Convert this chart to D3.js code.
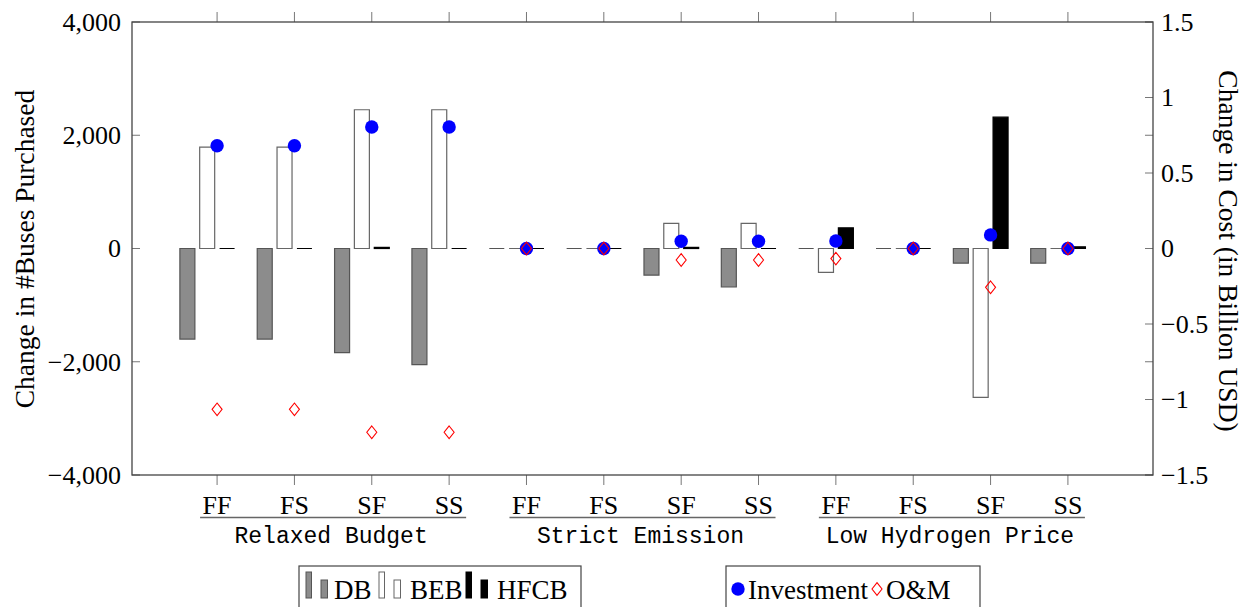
<!DOCTYPE html>
<html>
<head>
<meta charset="utf-8">
<script src="https://cdn.jsdelivr.net/npm/d3@7"></script>
<style>
  html, body { margin: 0; padding: 0; background: #fff; }
  svg { display: block; }
  .serif { font-family: "Liberation Serif", "Times New Roman", serif; }
  .mono { font-family: "Liberation Mono", "DejaVu Sans Mono", monospace; }
</style>
</head>
<body>
<svg id="chart" width="1249" height="607"></svg>
<script>
// Scenario groups and the four fleet cases within each
const groups = ["Relaxed Budget", "Strict Emission", "Low Hydrogen Price"];
const cases = ["FF", "FS", "SF", "SS"];

// Change in number of buses purchased (left axis)
const dbValues   = [-1600, -1600, -1840, -2050, 0, 0, -470, -680, 0, 0, -260, -260];
const bebValues  = [1790, 1790, 2450, 2450, 0, 0, 445, 445, -420, 0, -2630, 0];
const hfcbValues = [0, 0, 20, 0, 0, 0, 20, 0, 365, 0, 2320, 30];

// Change in cost, billion USD (right axis)
const investment = [0.68, 0.68, 0.805, 0.805, 0, 0, 0.048, 0.048, 0.05, 0, 0.09, 0];
const omCost     = [-1.065, -1.065, -1.217, -1.217, 0, 0, -0.076, -0.076, -0.067, 0, -0.257, 0];

// Tick values
const leftTicks  = [-4000, -2000, 0, 2000, 4000];
const rightTicks = [-1.5, -1, -0.5, 0, 0.5, 1, 1.5];

const svg = d3.select("#chart");
const plot = { left: 132, right: 1153, top: 22, bottom: 475 };

const positions = d3.range(1, 13);
const x = d3.scaleLinear().domain([-0.1, 13.1]).range([plot.left, plot.right]);
const yL = d3.scaleLinear().domain([-4000, 4000]).range([plot.bottom, plot.top]);
const yR = d3.scaleLinear().domain([-1.5, 1.5]).range([plot.bottom, plot.top]);

const fmtLeft = v => (v < 0 ? "\u2212" : "") + d3.format(",")(Math.abs(v));
const fmtRight = v => (v < 0 ? "\u2212" : "") + String(Math.abs(v));

const axisColor = "#444";
const tickColor = "#777";

// Bar series
const barWidth = 15;
const series = [
  { name: "DB",   values: dbValues,   shift: -29.7, fill: "#8c8c8c", stroke: "#555", sw: 1.2 },
  { name: "BEB",  values: bebValues,  shift: -9.9,  fill: "#ffffff", stroke: "#666", sw: 1.2 },
  { name: "HFCB", values: hfcbValues, shift: 10,    fill: "#000000", stroke: "#000", sw: 1.2 }
];

const barLayer = svg.append("g");
series.forEach(s => {
  barLayer.selectAll(null)
    .data(s.values.map((v, i) => ({ v, pos: positions[i] })))
    .join("path")
    .attr("d", d => {
      const cx = x(d.pos) + s.shift;
      const x0 = cx - barWidth / 2, x1 = cx + barWidth / 2;
      const y0 = yL(0), y1 = yL(d.v);
      return `M${x0},${y0}H${x1}V${y1}H${x0}Z`;
    })
    .attr("fill", s.fill)
    .attr("stroke", s.stroke)
    .attr("stroke-width", s.sw);
});

// Investment markers (filled circles)
svg.append("g").selectAll("circle")
  .data(investment.map((v, i) => ({ v, pos: positions[i] })))
  .join("circle")
  .attr("cx", d => x(d.pos))
  .attr("cy", d => yR(d.v))
  .attr("r", 6.7)
  .attr("fill", "#0000ff");

// O&M markers (open diamonds)
const diamond = (cx, cy) => `M${cx},${cy - 6.3}L${cx + 5},${cy}L${cx},${cy + 6.3}L${cx - 5},${cy}Z`;
svg.append("g").selectAll("path")
  .data(omCost.map((v, i) => ({ v, pos: positions[i] })))
  .join("path")
  .attr("d", d => diamond(x(d.pos), yR(d.v)))
  .attr("fill", "none")
  .attr("stroke", "#ff0000")
  .attr("stroke-width", 1.1);

// Tick marks
const ticks = svg.append("g").attr("stroke", tickColor).attr("stroke-width", 1);
// left axis ticks, inside on both sides
leftTicks.forEach(t => {
  ticks.append("line").attr("x1", plot.left).attr("x2", plot.left + 8).attr("y1", yL(t)).attr("y2", yL(t));
  ticks.append("line").attr("x1", plot.right).attr("x2", plot.right - 8).attr("y1", yL(t)).attr("y2", yL(t));
});
// right axis ticks, inside
rightTicks.forEach(t => {
  ticks.append("line").attr("x1", plot.right).attr("x2", plot.right - 8).attr("y1", yR(t)).attr("y2", yR(t));
});
// x ticks, outside at bottom and top
positions.forEach(p => {
  ticks.append("line").attr("x1", x(p)).attr("x2", x(p)).attr("y1", plot.bottom).attr("y2", plot.bottom + 10);
  ticks.append("line").attr("x1", x(p)).attr("x2", x(p)).attr("y1", plot.top).attr("y2", plot.top - 10);
});

// Frame
svg.append("rect")
  .attr("x", plot.left).attr("y", plot.top)
  .attr("width", plot.right - plot.left).attr("height", plot.bottom - plot.top)
  .attr("fill", "none").attr("stroke", axisColor).attr("stroke-width", 1.3);

// Left tick labels
svg.append("g").attr("class", "serif").selectAll("text")
  .data(leftTicks).join("text")
  .attr("x", 121).attr("y", d => yL(d)).attr("dy", "0.34em")
  .attr("text-anchor", "end").attr("font-size", 26).text(fmtLeft);

// Right tick labels
svg.append("g").attr("class", "serif").selectAll("text")
  .data(rightTicks).join("text")
  .attr("x", 1161).attr("y", d => yR(d)).attr("dy", "0.34em")
  .attr("text-anchor", "start").attr("font-size", 26).text(fmtRight);

// Case labels under each tick
svg.append("g").attr("class", "serif").selectAll("text")
  .data(positions).join("text")
  .attr("x", d => x(d)).attr("y", 514)
  .attr("text-anchor", "middle").attr("font-size", 26)
  .text((d, i) => cases[i % 4]);

// Group brackets and names
groups.forEach((g, gi) => {
  const a = x(positions[gi * 4]) - 17, b = x(positions[gi * 4 + 3]) + 17;
  svg.append("line").attr("x1", a).attr("x2", b).attr("y1", 517.5).attr("y2", 517.5)
    .attr("stroke", "#666").attr("stroke-width", 1.6);
  svg.append("text").attr("class", "mono")
    .attr("x", (a + b) / 2 - 2).attr("y", 543)
    .attr("text-anchor", "middle").attr("font-size", 23).text(g);
});

// Axis titles
svg.append("text").attr("class", "serif")
  .attr("transform", "translate(34,249) rotate(-90)")
  .attr("text-anchor", "middle").attr("font-size", 27.5)
  .text("Change in #Buses Purchased");
svg.append("text").attr("class", "serif")
  .attr("transform", "translate(1219,251) rotate(90)")
  .attr("text-anchor", "middle").attr("font-size", 27.5)
  .text("Change in Cost (in Billion USD)");

// Legend: bar series
const leg1 = svg.append("g");
leg1.append("rect").attr("x", 299).attr("y", 566).attr("width", 282).attr("height", 60)
  .attr("fill", "#fff").attr("stroke", axisColor).attr("stroke-width", 1.2);
const legBars = [
  { s: series[0], x: 306, tx: 334 },
  { s: series[1], x: 379, tx: 410 },
  { s: series[2], x: 466, tx: 497 }
];
legBars.forEach(l => {
  leg1.append("rect").attr("x", l.x).attr("y", 572).attr("width", 5.5).attr("height", 26)
    .attr("fill", l.s.fill).attr("stroke", l.s.stroke).attr("stroke-width", 1);
  leg1.append("rect").attr("x", l.x + 15).attr("y", 580).attr("width", 6.5).attr("height", 18)
    .attr("fill", l.s.fill).attr("stroke", l.s.stroke).attr("stroke-width", 1);
  leg1.append("text").attr("class", "serif").attr("x", l.tx).attr("y", 599)
    .attr("font-size", 27).text(l.s.name);
});

// Legend: cost markers
const leg2 = svg.append("g");
leg2.append("rect").attr("x", 726).attr("y", 566).attr("width", 254).attr("height", 60)
  .attr("fill", "#fff").attr("stroke", axisColor).attr("stroke-width", 1.2);
leg2.append("circle").attr("cx", 738).attr("cy", 589).attr("r", 6.7).attr("fill", "#0000ff");
leg2.append("text").attr("class", "serif").attr("x", 748).attr("y", 599)
  .attr("font-size", 27).text("Investment");
leg2.append("path").attr("d", diamond(877, 589))
  .attr("fill", "none").attr("stroke", "#ff0000").attr("stroke-width", 1.1);
leg2.append("text").attr("class", "serif").attr("x", 886).attr("y", 599)
  .attr("font-size", 27).text("O&M");
</script>
</body>
</html>
